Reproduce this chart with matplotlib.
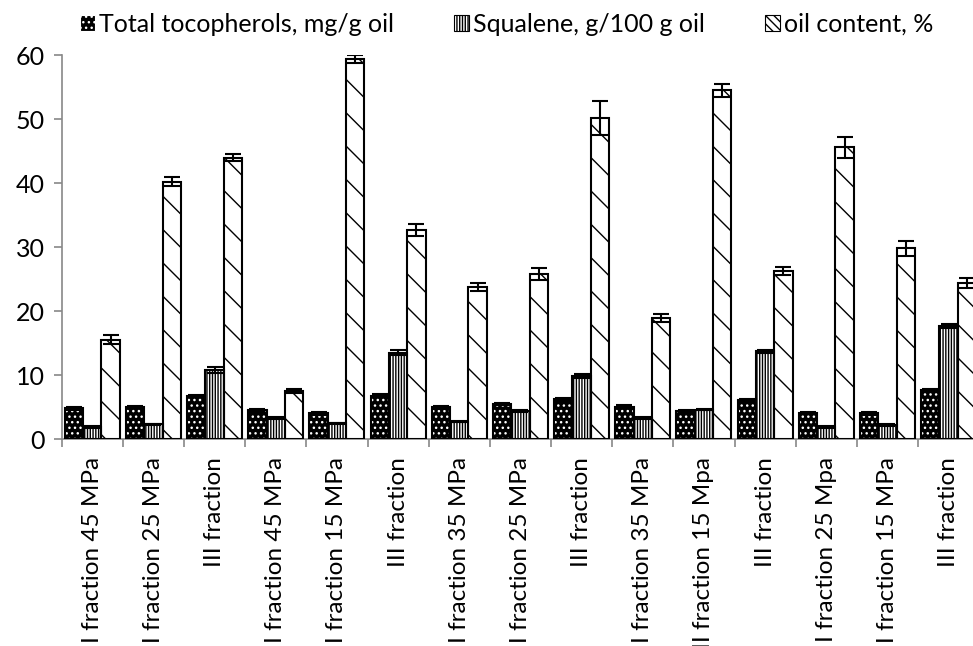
import numpy as np
import matplotlib
matplotlib.use("Agg")
import matplotlib.pyplot as plt
from matplotlib.patches import Patch

plt.rcParams['font.family'] = ['Lato', 'DejaVu Sans']
plt.rcParams['hatch.linewidth'] = 1.0

fractions = ["I fraction 45 MPa", "II fraction 25 MPa", "III fraction",
             "I fraction 45 MPa", "II fraction 15 MPa", "III fraction",
             "I fraction 35 MPa", "II fraction 25 MPa", "III fraction",
             "I fraction 35 MPa", "II fraction 15 Mpa", "III fraction",
             "I fraction 25 Mpa", "II fraction 15 MPa", "III fraction"]

tocopherols = [4.8, 5.0, 6.7, 4.5, 4.0, 6.8, 4.95, 5.45, 6.2, 5.05, 4.4, 6.1, 4.1, 4.0, 7.6]
tocopherols_err = [0.2, 0.2, 0.2, 0.2, 0.2, 0.2, 0.2, 0.2, 0.2, 0.2, 0.2, 0.2, 0.2, 0.2, 0.2]
squalene = [1.9, 2.3, 10.8, 3.3, 2.45, 13.5, 2.7, 4.4, 9.9, 3.3, 4.6, 13.7, 1.9, 2.2, 17.7]
squalene_err = [0.1, 0.1, 0.5, 0.1, 0.1, 0.4, 0.1, 0.1, 0.3, 0.1, 0.1, 0.2, 0.1, 0.1, 0.3]
oil = [15.5, 40.2, 44.0, 7.5, 59.4, 32.7, 23.8, 25.8, 50.2, 18.9, 54.5, 26.3, 45.6, 29.8, 24.4]
oil_err = [0.7, 0.7, 0.5, 0.3, 0.6, 0.9, 0.6, 1.0, 2.6, 0.6, 1.0, 0.6, 1.6, 1.2, 0.8]

fig = plt.figure(figsize=(9.73, 6.46), dpi=100)
ax = fig.add_axes([0.0634, 0.3204, 0.943, 0.594])

x = np.arange(len(fractions)) + 0.5
w = 0.3
err_kw = dict(ecolor='black', elinewidth=1.5, capsize=6, capthick=1.5)

# fill styles: (face, hatch colour, bar hatch, legend hatch)
styles = [
    ('black', 'white', '...', '...'),
    ('white', 'black', '||||||', '||||||'),
    ('white', 'black', '\\', '\\\\\\\\'),
]
series = [
    (tocopherols, tocopherols_err, "Total tocopherols, mg/g oil"),
    (squalene, squalene_err, "Squalene, g/100 g oil"),
    (oil, oil_err, "oil content, %"),
]
handles = []
for i, ((vals, errs, label), (face, hcol, hatch, lhatch)) in enumerate(zip(series, styles)):
    pos = x + (i - 1) * w
    ax.bar(pos, vals, w, color=face, edgecolor=hcol, linewidth=0, hatch=hatch, zorder=2)
    ax.bar(pos, vals, w, yerr=errs, fill=False, edgecolor='black', linewidth=1.5,
           error_kw=err_kw, zorder=3)
    handles.append(Patch(facecolor=face, edgecolor=hcol, hatch=lhatch,
                         linewidth=0.8, label=label))

ax.set_xlim(0, len(fractions))
ax.set_ylim(0, 60)
ax.set_yticks(range(0, 61, 10))
ax.set_xticks(x)
ax.set_xticklabels(fractions, rotation=90, fontsize=17.5)
ax.set_xticks(np.arange(0, len(fractions) + 1), minor=True)
ax.tick_params(axis='x', which='major', length=0, pad=13)
ax.tick_params(axis='x', which='minor', length=6, color='#888888', width=1.2)
ax.tick_params(axis='y', length=6, color='#888888', width=1.2, labelsize=18, pad=6)

for side in ['top', 'right']:
    ax.spines[side].set_visible(False)
for side in ['left', 'bottom']:
    ax.spines[side].set_color('#888888')
    ax.spines[side].set_linewidth(1.2)

fig.legend(handles=handles, loc='upper left', bbox_to_anchor=(0.059, 1.015),
           ncol=3, frameon=False, fontsize=18, handlelength=0.6, handleheight=0.6,
           handletextpad=0.16, columnspacing=2.4)

fig.savefig("out.png", dpi=100)
